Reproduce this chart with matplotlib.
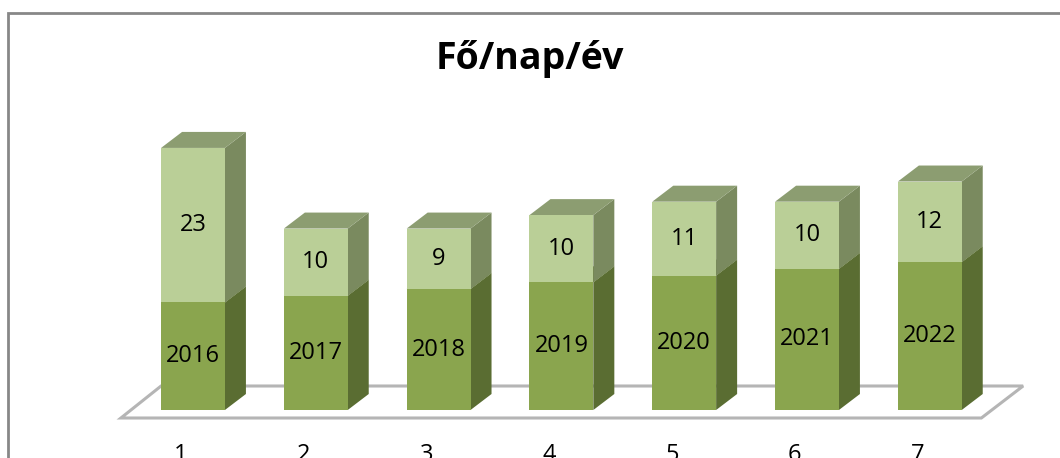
import matplotlib
matplotlib.use("Agg")
import matplotlib.pyplot as plt
from matplotlib.patches import Polygon, Rectangle

plt.rcParams['font.family'] = ['Open Sans', 'DejaVu Sans']

# data
categories = ['1', '2', '3', '4', '5', '6', '7']
years = [2016, 2017, 2018, 2019, 2020, 2021, 2022]
per_day = [23, 10, 9, 10, 11, 10, 12]
title = 'Fő/nap/év'
base = 2000  # value axis floor

# colours (front, side, top)
c_low = ('#8aa54e', '#5a6d32', '#6f8540')
c_high = ('#bacf97', '#7a8a5f', '#8c9d71')

# geometry (in data units)
bw = 0.52      # bar width
dx, dy = 0.171, 2.38   # depth offset of the 3d bars
ky = 6.72      # pixels per value unit

fig = plt.figure(figsize=(10.6, 4.58), dpi=100)
ax = fig.add_axes([0, 0, 1, 1])
ax.set_xlim(-193 / 122.8, (1060 - 193) / 122.8)
ax.set_ylim(base - 48 / ky, base + 410 / ky)
ax.axis('off')

# chart frame
fig.patches.append(Rectangle((8 / 1060, -0.1), 1.2, (458 - 12.5) / 458 + 0.1,
                             transform=fig.transFigure, fill=False,
                             edgecolor='#878787', linewidth=2))

# floor
fy0 = base - 8 / ky
fy1 = base + 24 / ky
floor = Polygon([(-0.587, fy0), (6.42, fy0), (6.76, fy1), (-0.26, fy1)],
                closed=True, facecolor='white', edgecolor='#b5b5b5',
                linewidth=2.2, zorder=1)
ax.add_patch(floor)


def box(x, y0, y1, cols):
    l, r = x - bw / 2, x + bw / 2
    ax.add_patch(Polygon([(r, y0), (r + dx, y0 + dy), (r + dx, y1 + dy), (r, y1)],
                         closed=True, facecolor=cols[1], edgecolor='none', zorder=2))
    ax.add_patch(Polygon([(l, y1), (r, y1), (r + dx, y1 + dy), (l + dx, y1 + dy)],
                         closed=True, facecolor=cols[2], edgecolor='none', zorder=2))


xs = list(range(len(categories)))
for i in xs:
    top = years[i] + per_day[i]
    box(i, base, years[i], c_low)
    box(i, years[i], top, c_high)

ax.bar(xs, [y - base for y in years], bottom=base, width=bw,
       color=c_low[0], zorder=3)
ax.bar(xs, per_day, bottom=years, width=bw, color=c_high[0], zorder=3)

for i in xs:
    ax.text(i, (base + years[i]) / 2, str(years[i]), ha='center', va='center',
            fontsize=17, zorder=4)
    ax.text(i, years[i] + per_day[i] / 2, str(per_day[i]), ha='center',
            va='center', fontsize=17, zorder=4)
    ax.text(i - 0.1, base - 33 / ky, categories[i], ha='center', va='top',
            fontsize=17)

ax.text(0.5, 1 - 69 / 458, title, transform=ax.transAxes, ha='center',
        va='baseline', fontsize=27, fontweight='bold')

fig.savefig('out.png', dpi=100)
